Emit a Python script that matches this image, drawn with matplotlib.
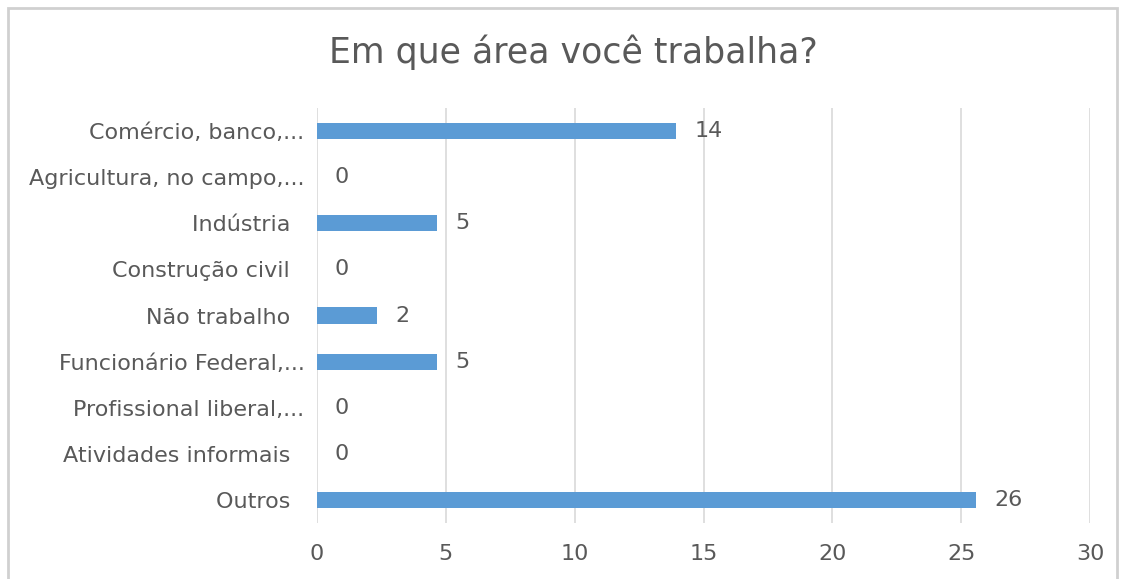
import matplotlib
matplotlib.use("Agg")
import matplotlib.pyplot as plt
from matplotlib.patches import Rectangle

categories = ["Comércio, banco,...", "Agricultura, no campo,...", "Indústria",
              "Construção civil", "Não trabalho", "Funcionário Federal,...",
              "Profissional liberal,...", "Atividades informais", "Outros"]
values = [13.95, 0, 4.65, 0, 2.33, 4.65, 0, 0, 25.58]
xticks = [0, 5, 10, 15, 20, 25, 30]
title = "Em que área você trabalha?"

TEXT = "#595959"
BAR = "#5B9BD5"
GRID = "#D9D9D9"
plt.rcParams['font.family'] = ['DejaVu Sans']

W, H = 1123, 579
fig = plt.figure(figsize=(W / 100, H / 100), dpi=100)
fig.patch.set_facecolor("white")
fig.patches.append(Rectangle((8 / W, -0.05), (1117 - 8) / W, (H - 8) / H + 0.05,
                             transform=fig.transFigure, fill=False,
                             edgecolor="#D0D0D0", linewidth=2))

ax = fig.add_axes([317 / W, 1 - 523 / H, (1090 - 317) / W, (523 - 108) / H])
y = list(range(len(categories)))
ax.barh(y, values, height=0.35, color=BAR, zorder=3)
ax.set_ylim(len(categories) - 0.5, -0.5)
ax.set_xlim(0, 30)
ax.set_xticks(xticks)
ax.set_yticks(y)
ax.set_yticklabels([c if c.endswith("...") else c + "  " for c in categories])
ax.tick_params(axis='both', length=0, colors=TEXT, labelsize=16)
ax.tick_params(axis='y', pad=9)
ax.tick_params(axis='x', pad=15)
for s in ax.spines.values():
    s.set_visible(False)
ax.grid(axis='x', color=GRID, linewidth=1.2, zorder=0)
ax.set_axisbelow(True)

for yi, v in zip(y, values):
    ax.annotate(f"{v:.0f}", xy=(v, yi), xytext=(18, 0), textcoords='offset pixels',
                ha='left', va='center', color=TEXT, fontsize=16)

fig.text(573 / W, 1 - 52 / H, title, ha='center', va='center', color=TEXT, fontsize=25)

fig.savefig("out.png", dpi=100)
